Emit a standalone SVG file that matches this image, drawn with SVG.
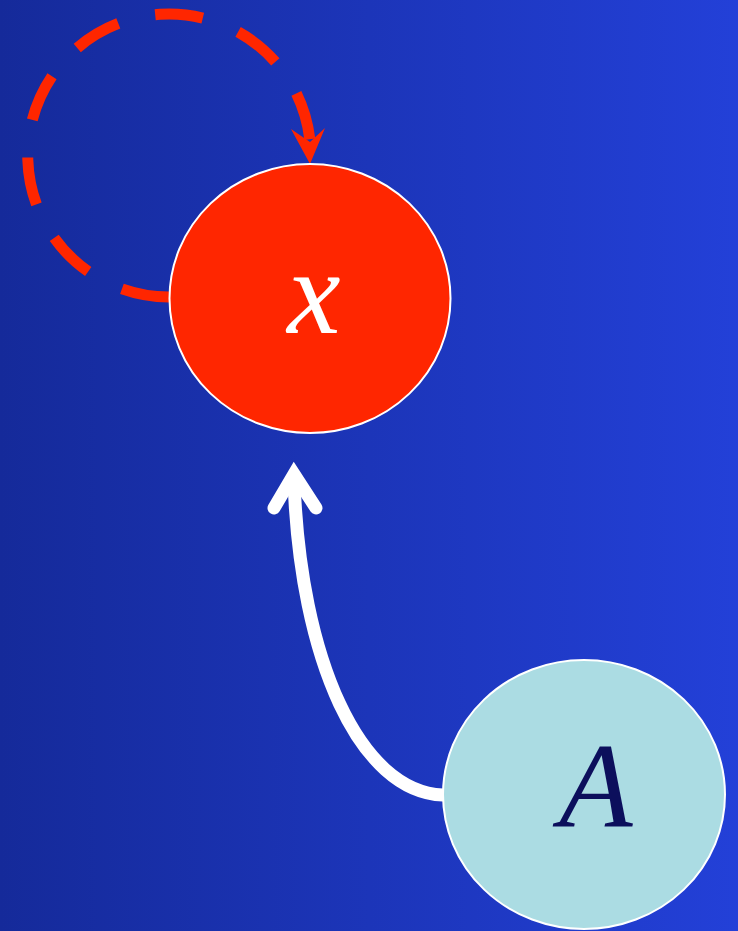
<svg xmlns="http://www.w3.org/2000/svg" width="738" height="931" viewBox="0 0 738 931">
  <defs>
    <linearGradient id="bg" x1="0" y1="0" x2="1" y2="0">
      <stop offset="0" stop-color="#152a9a"/>
      <stop offset="1" stop-color="#2340d8"/>
    </linearGradient>
  </defs>
  <style>
    .node { stroke: #ffffff; stroke-width: 2; }
    .label { font-family: "Liberation Serif", "Times New Roman", serif; font-style: italic; font-size: 120px; text-anchor: middle; }
    .loop { fill: none; stroke: #ff2600; stroke-width: 11; stroke-dasharray: 48 38; }
    .edge { fill: none; stroke: #ffffff; stroke-width: 13; stroke-linecap: round; stroke-linejoin: miter; }
  </style>

  <rect x="0" y="0" width="738" height="931" fill="url(#bg)"/>

  <g id="connectors">
    <!-- self-loop on x -->
    <path class="loop" d="M169,297 A141.5,141.5 0 1 1 310,141"/>
    <polygon points="310,164 291,129 310,142 325,128" fill="#ff2600"/>
    <!-- A to x -->
    <path class="edge" d="M443,795 C360,792 300,660 294,480"/>
    <polyline class="edge" points="274,508 294,474 316,508"/>
  </g>

  <g id="node-x">
    <ellipse class="node" cx="310" cy="298.5" rx="140.5" ry="134.5" fill="#ff2600"/>
    <text class="label" x="314" y="333" fill="#ffffff">x</text>
  </g>

  <g id="node-A">
    <ellipse class="node" cx="584" cy="794.5" rx="141" ry="134.5" fill="#abdce3"/>
    <text class="label" x="596" y="827" fill="#0c0f5c">A</text>
  </g>
</svg>
